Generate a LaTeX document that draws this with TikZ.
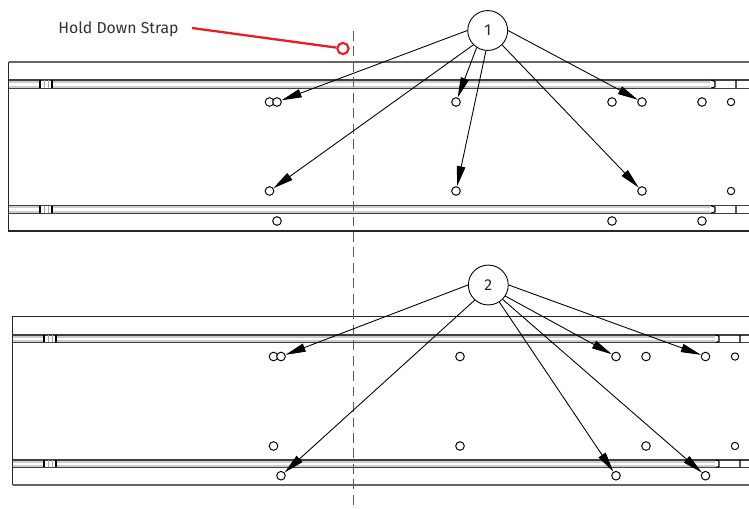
\documentclass[tikz,border=0pt]{standalone}
\usepackage{fontspec}
\setmainfont{Fira Sans}
\usetikzlibrary{arrows.meta}
\definecolor{strapred}{RGB}{237,28,36}
\tikzset{
edgeline/.style={black!85,line width=0.6pt},
railline/.style={black!75,line width=0.6pt},
softline/.style={black!60,line width=0.95pt},
halfline/.style={black!20,line width=1.2pt},
markline/.style={black,line width=0.6pt},
ghostline/.style={black!35,line width=0.45pt},
hole/.style={circle,draw,fill=white,inner sep=0pt,minimum size=4.9pt,line width=0.55pt},
smallhole/.style={hole,minimum size=4.2pt},
callout/.style={circle,draw,fill=white,inner sep=0pt,minimum size=22.7pt,line width=0.5pt,font=\small,text=black!85},
leader/.style={black,line width=0.5pt,-{Stealth[length=11.5pt,width=4.8pt,inset=0pt]}},
}
\begin{document}
\begin{tikzpicture}[x=0.02cm,y=-0.02cm]
\useasboundingbox (0,0) rectangle (749,508);

% upper beam
\draw[halfline] (8.5,81.5) -- (40,81.5) (52,81.5) -- (710,81.5);
\draw[halfline] (8.5,87) -- (40,87) (52,87) -- (710,87);
\draw[halfline] (8.5,207) -- (40,207) (52,207) -- (710,207);
\draw[halfline] (8.5,212) -- (40,212) (52,212) -- (710,212);
\draw[edgeline] (8.5,62) -- (8.5,231) -- (749,231);
\draw[softline] (8.5,62) -- (749,62);
\draw[railline] (8.5,80) -- (749,80);
\draw[railline] (8.5,88.3) -- (749,88.3);
\draw[railline] (8.5,205.5) -- (749,205.5);
\draw[railline] (8.5,213.3) -- (749,213.3);
\draw[ghostline] (44,80) -- (44,88) (48,80) -- (48,88) (44,206) -- (44,213) (48,206) -- (48,213);
\draw[markline] (40,80) -- (40,88) (52,80) -- (52,88) (40,206) -- (40,213) (52,206) -- (52,213);
\draw[markline] (711,80) -- (715,81.5) -- (715,87) -- (711,88) (736,80) -- (736,88);
\draw[markline] (711,206) -- (715,207) -- (715,212) -- (711,213) (736,206) -- (736,213);

% lower beam
\draw[halfline] (12.5,336.5) -- (44,336.5) (56,336.5) -- (715,336.5);
\draw[halfline] (12.5,341) -- (44,341) (56,341) -- (715,341);
\draw[halfline] (12.5,461.5) -- (44,461.5) (56,461.5) -- (715,461.5);
\draw[halfline] (12.5,466) -- (44,466) (56,466) -- (715,466);
\draw[edgeline] (12.5,485.3) -- (12.5,316.7) -- (749,316.7);
\draw[softline] (12.5,485.3) -- (749,485.3);
\draw[railline] (12.5,335) -- (749,335);
\draw[railline] (12.5,342.4) -- (749,342.4);
\draw[railline] (12.5,460) -- (749,460);
\draw[railline] (12.5,467.4) -- (749,467.4);
\draw[ghostline] (48,335) -- (48,342) (52,335) -- (52,342) (48,460) -- (48,467) (52,460) -- (52,467);
\draw[markline] (44,335) -- (44,342) (56,335) -- (56,342) (44,460) -- (44,467) (56,460) -- (56,467);
\draw[markline] (715.5,335) -- (719,336) -- (719,341.5) -- (715.5,342.4) (740,335) -- (740,342.4);
\draw[markline] (715.5,460) -- (719,461) -- (719,466.5) -- (715.5,467.4) (740,460) -- (740,467.4);

% center line
\coordinate (cltop) at (353.5,31);
\coordinate (clbot) at (353.5,506);
\draw[black!65,line width=1.1pt,dash pattern=on 5.6pt off 3.2pt] (cltop) -- (clbot);

% upper holes
\node[hole] (ua) at (269.5,102) {};
\node[hole] (ub) at (277,102) {};
\node[hole] (uc) at (456,102) {};
\node[hole] (ud) at (612,102) {};
\node[hole] (ue) at (642,102) {};
\node[hole] (uf) at (702,102) {};
\node[smallhole] (ug) at (731,102) {};
\node[hole] (uh) at (269.5,191) {};
\node[hole] (ui) at (456,191) {};
\node[hole] (uj) at (642,191) {};
\node[smallhole] (uk) at (731,191) {};
\node[hole] (ul) at (277,221) {};
\node[hole] (um) at (612,221) {};
\node[hole] (un) at (702,221) {};

% lower holes
\node[hole] (la) at (273.5,356.5) {};
\node[hole] (lb) at (281,356.5) {};
\node[hole] (lc) at (460,356.5) {};
\node[hole] (ld) at (616,356.5) {};
\node[hole] (le) at (646,356.5) {};
\node[hole] (lf) at (705.5,356.5) {};
\node[smallhole] (lg) at (735,356.5) {};
\node[hole] (lh) at (273.5,446) {};
\node[hole] (li) at (460,446) {};
\node[hole] (lj) at (646,446) {};
\node[smallhole] (lk) at (735,446) {};
\node[hole] (ll) at (281,475.7) {};
\node[hole] (lm) at (616,475.7) {};
\node[hole] (ln) at (705.5,475.7) {};

% callouts
\node[callout] (one) at (487.7,30.5) {1};
\node[callout] (two) at (488.3,285) {2};
\draw[leader] (one.west) -- (ub);
\draw[leader] (one.237) -- (uc);
\draw[leader] (one.east) -- (ue);
\draw[leader] (one.225) -- (uh);
\draw[leader] (one.265) -- (ui);
\draw[leader] (one.-45) -- (uj);
\draw[leader] (two.west) -- (lb);
\draw[leader] (two.-33) -- (ld);
\draw[leader] (two.east) -- (lf);
\draw[leader] (two.228) -- (ll);
\draw[leader] (two.-57) -- (lm);
\draw[leader] (two.-45) -- (ln);

% strap label
\node[font=\fontsize{9}{11}\selectfont,text=black!80,anchor=west,inner sep=0pt] (strap) at (58,29) {Hold Down Strap};
\node[circle,draw=strapred,fill=white,inner sep=0pt,minimum size=6.4pt,line width=1.2pt] (straphole) at (343,48.5) {};
\coordinate (strapstart) at (192,28);
\draw[strapred,line width=1.3pt] (strapstart) -- (straphole);
\end{tikzpicture}
\end{document}
